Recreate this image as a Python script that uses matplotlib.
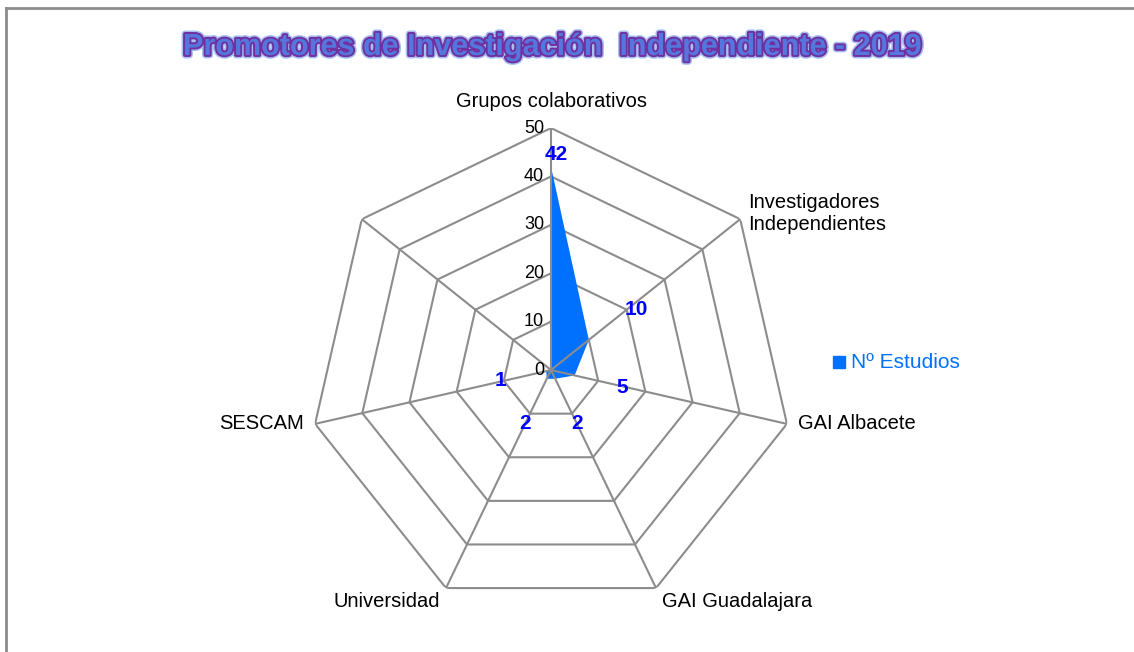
import numpy as np
import matplotlib
matplotlib.use("Agg")
import matplotlib.pyplot as plt
import matplotlib.patheffects as pe

categories = ["Grupos colaborativos", "Investigadores\nIndependientes", "GAI Albacete",
              "GAI Guadalajara", "Universidad", "SESCAM", ""]
values = [42, 10, 5, 2, 2, 1, 0]
value_labels = ["42", "10", "5", "2", "2", "1", ""]
rings = [0, 10, 20, 30, 40, 50]
series_name = "Nº Estudios"
title = "Promotores de Investigación  Independiente - 2019"

plt.rcParams["font.family"] = ["Liberation Sans", "DejaVu Sans"]

fill_col = "#0070FF"
grid_col = "#8C8C8C"

fig = plt.figure(figsize=(11.34, 6.52), dpi=100)
ax = fig.add_axes([0.2725, 0.0613, 0.4268, 0.7423], projection="polar")
ax.set_theta_offset(np.pi / 2)
ax.set_theta_direction(-1)
ax.set_ylim(0, 50)
ax.grid(False)
ax.spines["polar"].set_visible(False)
ax.set_xticks([])
ax.set_yticks([])
ax.patch.set_alpha(0)

n = len(categories)
angles = np.arange(n) * 2 * np.pi / n
closed = np.append(angles, angles[0])

# polygon grid + spokes
for r in rings[1:]:
    ax.plot(closed, [r] * (n + 1), color=grid_col, lw=1.5, zorder=1)
for a in angles:
    ax.plot([a, a], [0, 50], color=grid_col, lw=1.5, zorder=3)

# series
vals = np.append(values, values[0])
ax.fill(closed, vals, color=fill_col, lw=0, zorder=2)

# radial tick labels
for r in rings:
    ax.annotate(str(r), (0, r), xytext=(-5, 0), textcoords="offset points",
                ha="right", va="center", fontsize=13, color="black")

# category labels
cat_style = [((0, 12), "center", "bottom"), ((6, 4), "left", "center"),
             ((8, 0), "left", "center"), ((4, -3), "left", "top"),
             ((-4, -3), "right", "top"), ((-8, 0), "right", "center"),
             ((0, 0), "center", "center")]
for a, lab, (off, ha, va) in zip(angles, categories, cat_style):
    ax.annotate(lab, (a, 50), xytext=off, textcoords="offset points",
                ha=ha, va=va, fontsize=14.5, color="black", linespacing=1.15)

# data labels
lab_offsets = [(4, 9), (34, 22), (34, -9), (16, -32), (-16, -32), (-33, -7), (0, 0)]
for a, v, lab, off in zip(angles, values, value_labels, lab_offsets):
    ax.annotate(lab, (a, v), xytext=off, textcoords="offset points",
                ha="center", va="center", fontsize=15, fontweight="bold", color="#0000FF")

# legend
fig.patches.append(plt.Rectangle((833 / 1134, 1 - 368 / 652), 12 / 1134, 12 / 652,
                                  transform=fig.transFigure, color=fill_col))
fig.text(851 / 1134, 1 - 362 / 652, series_name, fontsize=15, color=fill_col,
         ha="left", va="center")

# title
fig.text(552 / 1134, 1 - 47 / 652, title, fontsize=22, fontweight="bold",
         color="#5577DD", ha="center", va="center",
         path_effects=[pe.Stroke(linewidth=5, foreground="#A8C0F0"),
                       pe.Stroke(linewidth=2.8, foreground="#7030A0"),
                       pe.Normal()])

# chart border (left and top)
fig.add_artist(plt.Line2D([6 / 1134, 6 / 1134], [0, 1 - 8 / 652], transform=fig.transFigure,
                          color="#8C8C8C", lw=2))
fig.add_artist(plt.Line2D([6 / 1134, 1], [1 - 8 / 652, 1 - 8 / 652], transform=fig.transFigure,
                          color="#8C8C8C", lw=2))

fig.savefig("out.png", dpi=100, facecolor="white")
